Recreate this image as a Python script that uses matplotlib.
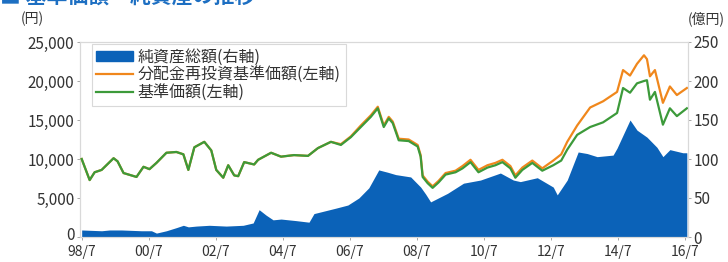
import matplotlib
matplotlib.use("Agg")
import matplotlib.pyplot as plt
import matplotlib.transforms as mtransforms
from matplotlib.patches import Patch
from matplotlib.lines import Line2D

plt.rcParams['font.family'] = ['Noto Sans CJK JP', 'DejaVu Sans']

# x positions expressed as pixel-read columns converted to decimal years
nav_x = [80, 88, 93, 100, 112, 116, 122, 135, 142, 148, 155, 165, 175, 182, 187, 193, 203, 210,
         215, 222, 227, 233, 237, 243, 253, 257, 270, 280, 293, 307, 317, 330, 340, 350, 360, 370,
         377, 383, 388, 392, 398, 408, 417, 420, 422, 427, 432, 438, 445, 455, 462, 470, 478, 487,
         495, 502, 510, 515, 522, 532, 542, 553, 561, 567, 577, 590, 603, 617, 623, 630, 637, 644,
         647, 650, 655, 663, 670, 677, 687]
nav = [10000, 7300, 8300, 8600, 10100, 9700, 8200, 7700, 9000, 8700, 9500, 10800, 10900, 10600,
       8600, 11500, 12200, 11100, 8600, 7600, 9200, 7900, 7800, 9600, 9300, 9900, 10800, 10300,
       10500, 10400, 11400, 12200, 11800, 12800, 14100, 15400, 16500, 14100, 15200, 14600, 12400,
       12300, 11600, 10300, 7700, 6900, 6300, 7000, 8000, 8300, 8800, 9600, 8300, 8900, 9200, 9600,
       8800, 7600, 8600, 9500, 8500, 9200, 9800, 11200, 13100, 14100, 14700, 15900, 19100, 18500,
       19700, 20000, 20100, 17600, 18600, 14400, 16500, 15500, 16500]
reinv = [10000, 7300, 8300, 8600, 10100, 9700, 8200, 7700, 9000, 8700, 9500, 10800, 10900, 10600,
         8600, 11500, 12200, 11100, 8600, 7600, 9200, 7900, 7800, 9600, 9300, 9900, 10800, 10300,
         10500, 10400, 11400, 12200, 11900, 12900, 14300, 15600, 16700, 14300, 15400, 14800, 12600,
         12500, 11800, 10500, 7900, 7100, 6500, 7200, 8200, 8500, 9100, 9900, 8600, 9200, 9500,
         9900, 9100, 7900, 8900, 9800, 8800, 9800, 10600, 12200, 14300, 16600, 17400, 18600, 21400,
         20700, 22200, 23300, 22800, 20600, 21400, 17200, 19300, 18200, 19100]

assets_x = [80, 100, 108, 120, 140, 150, 155, 165, 175, 182, 187, 195, 208, 225, 242, 252, 258,
            265, 272, 280, 295, 308, 313, 335, 347, 358, 368, 378, 387, 395, 410, 420, 425, 430,
            447, 463, 480, 500, 513, 520, 537, 553, 557, 567, 578, 587, 597, 613, 617, 630, 637,
            647, 657, 663, 670, 683, 687]
assets = [9, 8, 9, 9, 8, 8, 5, 8, 12, 15, 13, 14, 15, 14, 15, 18, 35, 28, 22, 23, 21, 19, 30, 37,
          41, 50, 63, 86, 83, 80, 77, 64, 55, 45, 56, 69, 73, 82, 73, 71, 76, 64, 54, 73, 109, 107,
          103, 105, 114, 150, 137, 128, 115, 103, 112, 108, 108]

xtick_labels = ["98/7", "00/7", "02/7", "04/7", "06/7", "08/7", "10/7", "12/7", "14/7", "16/7"]
left_ticks = [0, 5000, 10000, 15000, 20000, 25000]
right_ticks = [0, 50, 100, 150, 200, 250]
legend_labels = ["純資産総額(右軸)", "分配金再投資基準価額(左軸)", "基準価額(左軸)"]


def to_year(px):
    return 1998.5 + (px - 80) / 33.6


nav_t = [to_year(p) for p in nav_x]
assets_t = [to_year(p) for p in assets_x]

BLUE = "#0b62b8"
ORANGE = "#f0871c"
GREEN = "#3c9a3a"
TXT = "#333333"
FRAME = "#d9d9d9"

fig = plt.figure(figsize=(7.28, 2.62), dpi=100)
ax = fig.add_axes([80 / 728, 1 - 237 / 262, 608 / 728, 195 / 262])
ax2 = ax.twinx()

ax2.fill_between(assets_t, 0, assets, color=BLUE, lw=0, zorder=1)
ax2.set_ylim(0, 250)
ax.set_zorder(ax2.get_zorder() + 1)
ax.patch.set_visible(False)

ax.plot(nav_t, reinv, color=ORANGE, lw=1.6, zorder=3)
ax.plot(nav_t, nav, color=GREEN, lw=1.6, zorder=4)
ax.set_ylim(0, 25000)
ax.set_xlim(1998.45, 2016.6)

ax.set_xticks([1998.5 + 2 * i for i in range(len(xtick_labels))])
ax.set_xticklabels(xtick_labels)
ax.set_yticks(left_ticks)
ax.set_yticklabels([f"{v:,}" for v in left_ticks])
ax2.set_yticks(right_ticks)
ax2.set_yticklabels([str(v) for v in right_ticks])

for a in (ax, ax2):
    for s in a.spines.values():
        s.set_color(FRAME)
        s.set_linewidth(0.8)
    a.tick_params(colors="#999999", labelcolor=TXT, labelsize=11, length=2, width=0.6, pad=2)
ax.tick_params(axis="x", pad=4, labelsize=10)

# nudge the lowest left label up a little so it does not collide with "98/7"
zero_lbl = ax.get_yticklabels()[0]
zero_lbl.set_transform(zero_lbl.get_transform() +
                       mtransforms.ScaledTranslation(0, 3 / 100, fig.dpi_scale_trans))

fig.text(32 / 728, 1 - 19 / 262, "(円)", ha="center", va="center", fontsize=10, color=TXT)
fig.text(706 / 728, 1 - 19 / 262, "(億円)", ha="center", va="center", fontsize=10, color=TXT)

handles = [Patch(facecolor=BLUE, edgecolor=BLUE),
           Line2D([], [], color=ORANGE, lw=1.6),
           Line2D([], [], color=GREEN, lw=1.6)]
leg = ax.legend(handles, legend_labels, loc="upper left", bbox_to_anchor=(10 / 608, 1.0),
                fontsize=11.5, frameon=True, fancybox=False, framealpha=1,
                edgecolor=FRAME, handlelength=2.3, handleheight=0.6, labelspacing=0.05,
                borderpad=0.3, handletextpad=0.3, borderaxespad=0.1)
for t in leg.get_texts():
    t.set_color(TXT)
leg.get_frame().set_linewidth(0.8)

fig.text(0.0, 1 - 7 / 262, "■ 基準価額・純資産の推移", ha="left", va="bottom",
         fontsize=15, color="#1d6fc2", fontweight="bold")

fig.savefig("out.png", dpi=100)
